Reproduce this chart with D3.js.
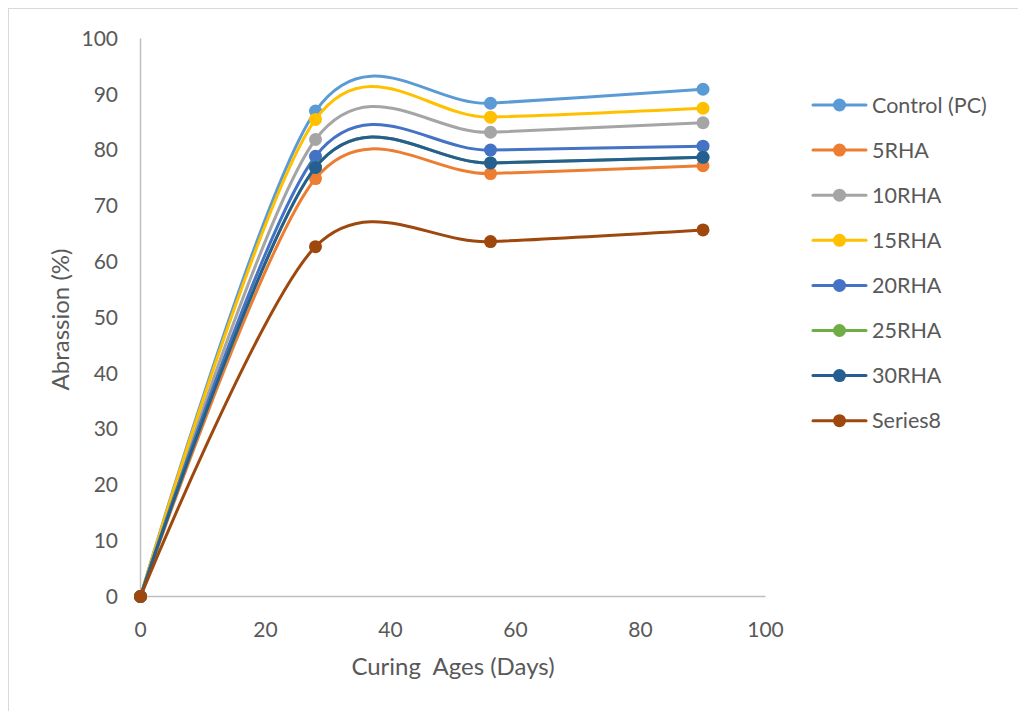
<!DOCTYPE html>
<html>
<head>
<meta charset="utf-8">
<script src="https://cdn.jsdelivr.net/npm/d3@7"></script>
<style>
  html, body { margin: 0; padding: 0; background: #fff; }
  svg { display: block; font-family: Lato, "Open Sans", "Liberation Sans", sans-serif; }
</style>
</head>
<body>
<svg id="chart" width="1018" height="711"></svg>
<script>
// Curing ages (days) at which abrasion was measured
const ages = [0, 28, 56, 90];

// Abrasion (%) per mix
const control = [0, 87.0, 88.4, 90.9];
const rha5    = [0, 74.9, 75.8, 77.2];
const rha10   = [0, 81.9, 83.2, 84.9];
const rha15   = [0, 85.5, 85.9, 87.5];
const rha20   = [0, 78.9, 80.0, 80.7];
const rha25   = [0, 76.9, 77.7, 78.7];
const rha30   = [0, 76.9, 77.7, 78.7];
const series8 = [0, 62.7, 63.6, 65.7];

const seriesNames = ["Control (PC)", "5RHA", "10RHA", "15RHA", "20RHA", "25RHA", "30RHA", "Series8"];
const seriesValues = [control, rha5, rha10, rha15, rha20, rha25, rha30, series8];
const seriesColors = ["#5B9BD5", "#ED7D31", "#A5A5A5", "#FFC000", "#4472C4", "#70AD47", "#255E91", "#9E480E"];

const xTicks = [0, 20, 40, 60, 80, 100];
const yTicks = [0, 10, 20, 30, 40, 50, 60, 70, 80, 90, 100];

const svg = d3.select("#chart");

// chart frame
svg.append("rect")
  .attr("x", 8.5).attr("y", 8.5)
  .attr("width", 1030).attr("height", 730)
  .attr("fill", "#fff").attr("stroke", "#d9d9d9").attr("stroke-width", 1);

const x = d3.scaleLinear().domain([0, 100]).range([140.5, 765.5]);
const y = d3.scaleLinear().domain([0, 100]).range([596.5, 38.5]);

const textColor = "#595959";
const axisColor = "#bfbfbf";

// axes lines
svg.append("line")
  .attr("x1", x(0)).attr("x2", x(100))
  .attr("y1", y(0)).attr("y2", y(0))
  .attr("stroke", axisColor).attr("stroke-width", 1.5);
svg.append("line")
  .attr("x1", x(0)).attr("x2", x(0))
  .attr("y1", y(0)).attr("y2", y(100))
  .attr("stroke", axisColor).attr("stroke-width", 1.5);

// y tick labels
svg.append("g").selectAll("text")
  .data(yTicks).join("text")
  .attr("x", 118).attr("y", d => y(d))
  .attr("dy", "0.35em")
  .attr("text-anchor", "end")
  .attr("font-size", 21).attr("fill", textColor)
  .text(d => d);

// x tick labels
svg.append("g").selectAll("text")
  .data(xTicks).join("text")
  .attr("x", d => x(d)).attr("y", 637)
  .attr("text-anchor", "middle")
  .attr("font-size", 21).attr("fill", textColor)
  .text(d => d);

// axis titles
svg.append("text")
  .attr("transform", `translate(69,${(y(0) + y(100)) / 2 + 2}) rotate(-90)`)
  .attr("text-anchor", "middle")
  .attr("font-size", 24).attr("fill", textColor)
  .text("Abrassion (%)");

svg.append("text")
  .attr("x", 453).attr("y", 675)
  .attr("text-anchor", "middle")
  .attr("font-size", 24).attr("fill", textColor)
  .attr("xml:space", "preserve")
  .style("white-space", "pre")
  .text("Curing  Ages (Days)");

// smoothed series lines
const line = d3.line()
  .x((d, i) => x(ages[i]))
  .y(d => y(d))
  .curve(d3.curveCardinal.tension(0.08));

const plot = svg.append("g");
seriesValues.forEach((vals, k) => {
  const g = plot.append("g");
  g.append("path")
    .datum(vals)
    .attr("d", line)
    .attr("fill", "none")
    .attr("stroke", seriesColors[k])
    .attr("stroke-width", 3)
    .attr("stroke-linecap", "round");
  g.selectAll("circle")
    .data(vals).join("circle")
    .attr("cx", (d, i) => x(ages[i]))
    .attr("cy", d => y(d))
    .attr("r", 6.5)
    .attr("fill", seriesColors[k]);
});

// legend
const legend = svg.append("g");
seriesNames.forEach((name, k) => {
  const ly = 105 + k * 45.1;
  legend.append("line")
    .attr("x1", 813).attr("x2", 866)
    .attr("y1", ly).attr("y2", ly)
    .attr("stroke", seriesColors[k]).attr("stroke-width", 3)
    .attr("stroke-linecap", "round");
  legend.append("circle")
    .attr("cx", 839.5).attr("cy", ly).attr("r", 6.5)
    .attr("fill", seriesColors[k]);
  legend.append("text")
    .attr("x", 872).attr("y", ly).attr("dy", "0.35em")
    .attr("font-size", 21.5).attr("fill", textColor)
    .text(name);
});
</script>
</body>
</html>
